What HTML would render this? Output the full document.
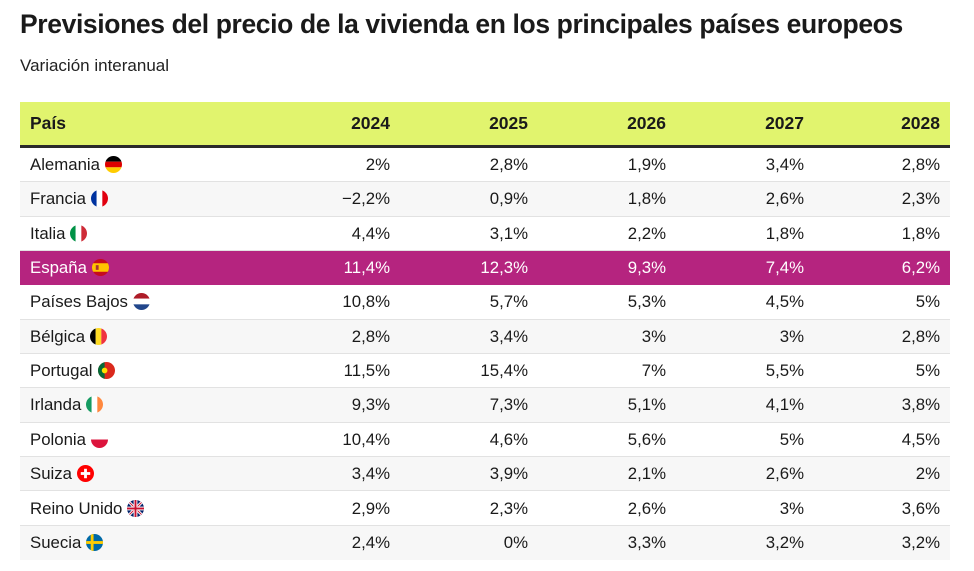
<!DOCTYPE html>
<html><head><meta charset="utf-8">
<style>
body{margin:0;background:#fff;width:974px;height:571px;overflow:hidden;font-family:"Liberation Sans",sans-serif;color:#1a1a1a;position:relative}
#title{position:absolute;left:20px;top:9px;font-size:26.5px;font-weight:bold;letter-spacing:-0.38px;margin:0;white-space:nowrap}
#sub{position:absolute;left:20px;top:56px;font-size:17px;color:#222}
#tbl{position:absolute;left:20px;top:102px;width:930px}
.hdr{position:absolute;left:0;top:0;width:930px;height:43px;background:#e1f46e;border-bottom:3px solid #2a2a2a;font-weight:bold;font-size:17.5px}
.row{position:absolute;left:0;width:930px;height:33.3px;border-bottom:1px solid #e2e2e2;font-size:16.8px}
.c{position:absolute;top:0;line-height:34px;white-space:nowrap}
.hdr .c{line-height:43px}
.flag{display:inline-block;vertical-align:-3px;margin-left:5px}
</style></head><body>
<h1 id="title">Previsiones del precio de la vivienda en los principales países europeos</h1>
<div id="sub">Variación interanual</div>
<div id="tbl"></div>
<script>
const countries=["Alemania","Francia","Italia","España","Países Bajos","Bélgica","Portugal","Irlanda","Polonia","Suiza","Reino Unido","Suecia"];
const years=["2024","2025","2026","2027","2028"];
const v2024=["2%","−2,2%","4,4%","11,4%","10,8%","2,8%","11,5%","9,3%","10,4%","3,4%","2,9%","2,4%"];
const v2025=["2,8%","0,9%","3,1%","12,3%","5,7%","3,4%","15,4%","7,3%","4,6%","3,9%","2,3%","0%"];
const v2026=["1,9%","1,8%","2,2%","9,3%","5,3%","3%","7%","5,1%","5,6%","2,1%","2,6%","3,3%"];
const v2027=["3,4%","2,6%","1,8%","7,4%","4,5%","3%","5,5%","4,1%","5%","2,6%","3%","3,2%"];
const v2028=["2,8%","2,3%","1,8%","6,2%","5%","2,8%","5%","3,8%","4,5%","2%","3,6%","3,2%"];
const highlight="España";
const series=[v2024,v2025,v2026,v2027,v2028];
const rights=[370,508,646,784,920];
function flag(name){
 const id='cp'+name.length+name.charCodeAt(1);
 const s=(body)=>'<svg class="flag" width="17" height="17" viewBox="0 0 18 18"><defs><clipPath id="'+id+'"><circle cx="9" cy="9" r="9"/></clipPath></defs><g clip-path="url(#'+id+')">'+body+'</g></svg>';
 const h=(a,b,c)=>'<rect width="18" height="6" fill="'+a+'"/><rect y="6" width="18" height="6" fill="'+b+'"/><rect y="12" width="18" height="6" fill="'+c+'"/>';
 const v=(a,b,c)=>'<rect width="6" height="18" fill="'+a+'"/><rect x="6" width="6" height="18" fill="'+b+'"/><rect x="12" width="6" height="18" fill="'+c+'"/>';
 switch(name){
  case "Alemania":return s(h("#000","#d00","#fc0"));
  case "Francia":return s(v("#0033a0","#fff","#e1000f"));
  case "Italia":return s(v("#009246","#fff","#ce2b37"));
  case "España":return s('<rect width="18" height="18" fill="#c60b1e"/><rect y="4.5" width="18" height="9" fill="#ffc400"/><rect x="4" y="6.5" width="3" height="5" fill="#a33"/>');
  case "Países Bajos":return s(h("#ae1c28","#fff","#21468b"));
  case "Bélgica":return s(v("#000","#fdda24","#ef3340"));
  case "Portugal":return s('<rect width="18" height="18" fill="#da291c"/><rect width="7" height="18" fill="#046a38"/><circle cx="7" cy="9" r="3" fill="#ffe000"/>');
  case "Irlanda":return s(v("#169b62","#fff","#ff883e"));
  case "Polonia":return s('<rect width="18" height="9" fill="#fff"/><rect y="9" width="18" height="9" fill="#dc143c"/>');
  case "Suiza":return s('<rect width="18" height="18" fill="#f00"/><rect x="7.5" y="4" width="3" height="10" fill="#fff"/><rect x="4" y="7.5" width="10" height="3" fill="#fff"/>');
  case "Reino Unido":return s('<rect width="18" height="18" fill="#012169"/><path d="M0 0L18 18M18 0L0 18" stroke="#fff" stroke-width="3"/><path d="M0 0L18 18M18 0L0 18" stroke="#c8102e" stroke-width="1"/><rect x="7" width="4" height="18" fill="#fff"/><rect y="7" width="18" height="4" fill="#fff"/><rect x="8" width="2" height="18" fill="#c8102e"/><rect y="8" width="18" height="2" fill="#c8102e"/>');
  case "Suecia":return s('<rect width="18" height="18" fill="#006aa7"/><rect x="5" width="3" height="18" fill="#fecc00"/><rect y="7.5" width="18" height="3" fill="#fecc00"/>');
 }
 return "";
}
const tbl=document.getElementById('tbl');
const hdr=document.createElement('div');hdr.className='hdr';


let hc=document.createElement('div');hc.className='c';hc.style.left='10px';hc.textContent='País';


hdr.appendChild(hc);
years.forEach((y,i)=>{const d=document.createElement('div');d.className='c';d.style.right=(930-rights[i])+'px';d.textContent=y;


hdr.appendChild(d);});
tbl.appendChild(hdr);
const rowH=34.35, top0=46;
countries.forEach((c,r)=>{
 const row=document.createElement('div');row.className='row';
 
 
 row.style.top=(top0+r*rowH)+'px';
 let bg=(r%2==1)?'#f7f7f7':'#fff', col='#1a1a1a';
 if(c===highlight){bg='#b5247f';col='#fff';row.style.borderBottomColor='#b5247f';}
 if(r===countries.length-1){row.style.borderBottomColor='transparent';}
 row.style.background=bg;row.style.color=col;
 const n=document.createElement('div');n.className='c';n.style.left='10px';n.innerHTML=c+flag(c);
 
 
 row.appendChild(n);
 series.forEach((s,i)=>{const d=document.createElement('div');d.className='c';d.style.right=(930-rights[i])+'px';d.textContent=s[r];
 
 
 row.appendChild(d);});
 tbl.appendChild(row);
});
</script>
</body></html>
